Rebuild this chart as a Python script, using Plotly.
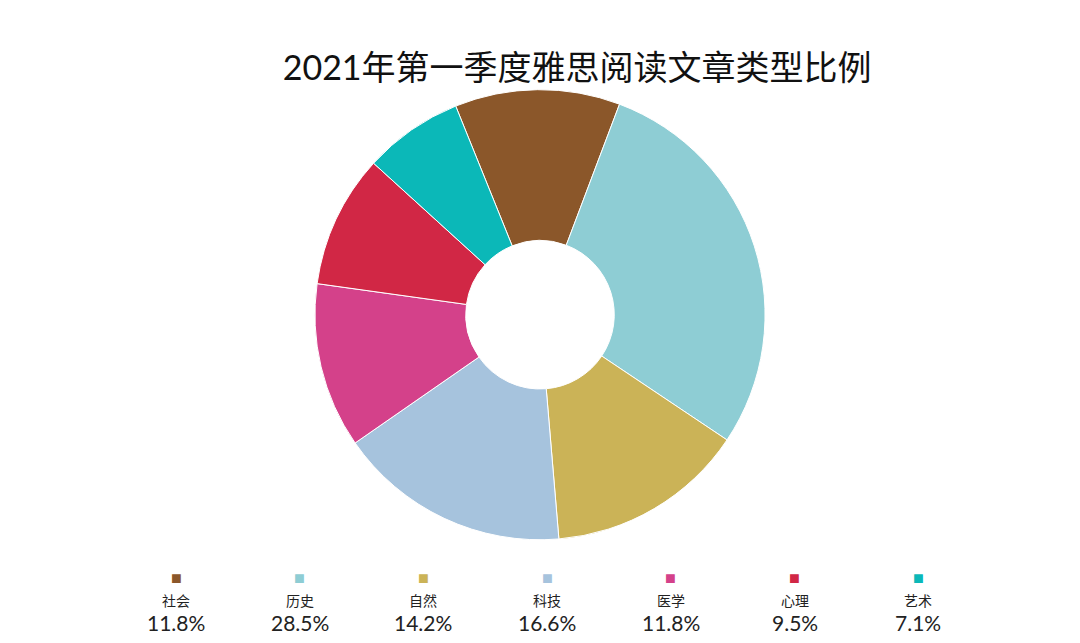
import plotly.graph_objects as go

categories = ["社会", "历史", "自然", "科技", "医学", "心理", "艺术"]
values = [11.8, 28.5, 14.2, 16.6, 11.8, 9.5, 7.1]
colors = ["#8B572A", "#8ECDD4", "#CBB357", "#A6C3DD", "#D4418A", "#D12745", "#0BB8B8"]

W, H = 1080, 643

fig = go.Figure(go.Pie(
    labels=categories, values=values,
    marker=dict(colors=colors, line=dict(color="white", width=1)),
    hole=0.33, sort=False, direction="clockwise", rotation=-22,
    textinfo="none", hoverinfo="label+percent",
    domain=dict(x=[0, 1 - 16 / W], y=[0.173, 0.873]),
    showlegend=False,
))

# custom legend: square, name, percentage per column
x0, step = 168, 123.7
ann = []
for i, (c, v, col) in enumerate(zip(categories, values, colors)):
    x = (x0 + i * step) / W
    common = dict(x=x, xanchor="center", yanchor="middle", showarrow=False, xref="paper", yref="paper")
    ann.append(dict(y=1 - 569 / H, text="■", font=dict(color=col, size=18), **common))
    ann.append(dict(y=1 - 592 / H, text=c, font=dict(size=14, color="#222", family="Noto Sans CJK SC"), **common))
    ann.append(dict(y=1 - 614 / H, text=f"{v:.1f}%", font=dict(size=21, color="#222", family="Lato"), **common))

fig.update_layout(
    width=W, height=H, margin=dict(l=0, r=0, t=0, b=0),
    paper_bgcolor="white", plot_bgcolor="white",
    title=dict(text="2021年第一季度雅思阅读文章类型比例", x=0.527, y=1 - 60 / H, xanchor="center", yanchor="middle",
               font=dict(size=34, color="#111", family="Lato, Noto Sans CJK SC")),
    annotations=ann,
)
fig.write_html("out.html")
